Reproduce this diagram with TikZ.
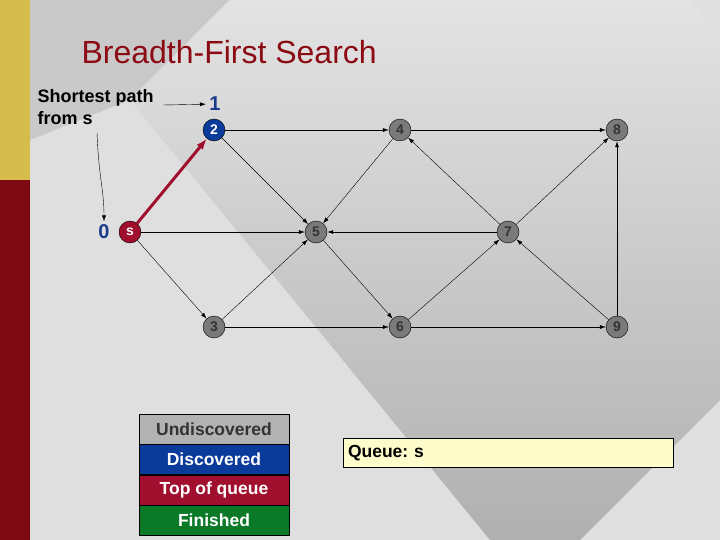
\documentclass[tikz,border=0pt]{standalone}
\usepackage{fontspec}
\setmainfont{Liberation Sans}
\usetikzlibrary{arrows.meta}
\definecolor{titlered}{HTML}{8B0A14}
\definecolor{nodegray}{HTML}{7A7A7A}
\definecolor{discblue}{HTML}{0A3A9A}
\definecolor{topred}{HTML}{A0102E}
\definecolor{fingreen}{HTML}{0A7A28}
\definecolor{labelblue}{HTML}{1A3A8A}
\begin{document}
\begin{tikzpicture}[x=1pt,y=-1pt,
                roundnode/.style={
                    draw=black, circle, fill=nodegray, inner sep=0pt, minimum size=22pt,
                    font=\fontsize{14}{14}\selectfont\bfseries, text=black!80
                },
                edge/.style={-{Latex[length=6pt,width=4pt]}, thin},
                legendbox/.style={draw=black, minimum width=150pt, minimum height=30pt,
                    inner sep=0pt, font=\fontsize{17.5}{17.5}\selectfont\bfseries, text=white}
            ]
            \useasboundingbox (0,0) rectangle (720,540);
            % background
            \fill[gray!25] (0,0) rectangle (720,540);
            \fill[gray!42] (30,0) -- (230,0) -- (130,100) -- (30,140) -- cycle;
            \shade[top color=gray!22, bottom color=gray!62]
                (230,0) -- (690,0) -- (720,30) -- (720,400) -- (580,540) -- (490,540) -- (130,100) -- cycle;
            \fill[gray!45!yellow!80!orange] (0,0) rectangle (30,180);
            \fill[titlered!90!black] (0,180) rectangle (30,540);
            \node[anchor=west, text=titlered, font=\fontsize{32}{32}\selectfont] (title) at (78,52) {Breadth-First Search};

            \node[roundnode, fill=topred, text=white] (s) at (130,232) {s};
            \node[roundnode, fill=discblue, text=white] (2) at (214,130) {2};
            \node[roundnode] (4) at (400,130) {4};
            \node[roundnode] (8) at (617,130) {8};
            \node[roundnode] (5) at (316,232) {5};
            \node[roundnode] (7) at (508,232) {7};
            \node[roundnode] (3) at (214,327) {3};
            \node[roundnode] (6) at (400,327) {6};
            \node[roundnode] (9) at (617,327) {9};

            % distances
            \node[text=labelblue, font=\fontsize{20}{20}\selectfont\bfseries] (d2) at (215,104) {1};
            \node[text=labelblue, font=\fontsize{20}{20}\selectfont\bfseries] (ds) at (104,232) {0};
            \node[anchor=north west, align=left, font=\fontsize{18}{22}\selectfont\bfseries] (note) at (34,86) {Shortest path\\from s};
            \coordinate (n1) at (163,105);
            \coordinate (n2) at (97,133);
            \draw[edge] (n1) -- (d2);
            \draw[edge] (n2) .. controls (99,180) and (104,190) .. (ds);

            % edges
            \draw[-{Latex[length=11pt,width=8pt]}, topred, line width=3pt] (s) -- (2);
            \draw[edge] (s) -- (5);
            \draw[edge] (s) -- (3);
            \draw[edge] (2) -- (4);
            \draw[edge] (2) -- (5);
            \draw[edge] (4) -- (8);
            \draw[edge] (4) -- (5);
            \draw[edge] (7) -- (4);
            \draw[edge, semithick] (7) -- (5);
            \draw[edge] (7) -- (8);
            \draw[edge] (3) -- (5);
            \draw[edge] (3) -- (6);
            \draw[edge] (5) -- (6);
            \draw[edge] (6) -- (7);
            \draw[edge] (6) -- (9);
            \draw[edge] (9) -- (7);
            \draw[edge, semithick] (9) -- (8);

            % legend
            \node[legendbox, fill=gray!60, text=black!80] (undisc) at (214,429) {Undiscovered};
            \node[legendbox, fill=discblue, anchor=north] (disc) at (undisc.south) {Discovered};
            \node[legendbox, fill=topred, anchor=north] (top) at (disc.south) {Top of queue};
            \node[legendbox, fill=fingreen, anchor=north] (fin) at (top.south) {Finished};
            \node[draw=black, fill=yellow!20, minimum width=330pt, minimum height=29pt, inner sep=5pt,
                text width=320pt, font=\fontsize{17.5}{17.5}\selectfont\bfseries] (queue) at (508,453) {Queue:~s};
            \end{tikzpicture}
\end{document}
